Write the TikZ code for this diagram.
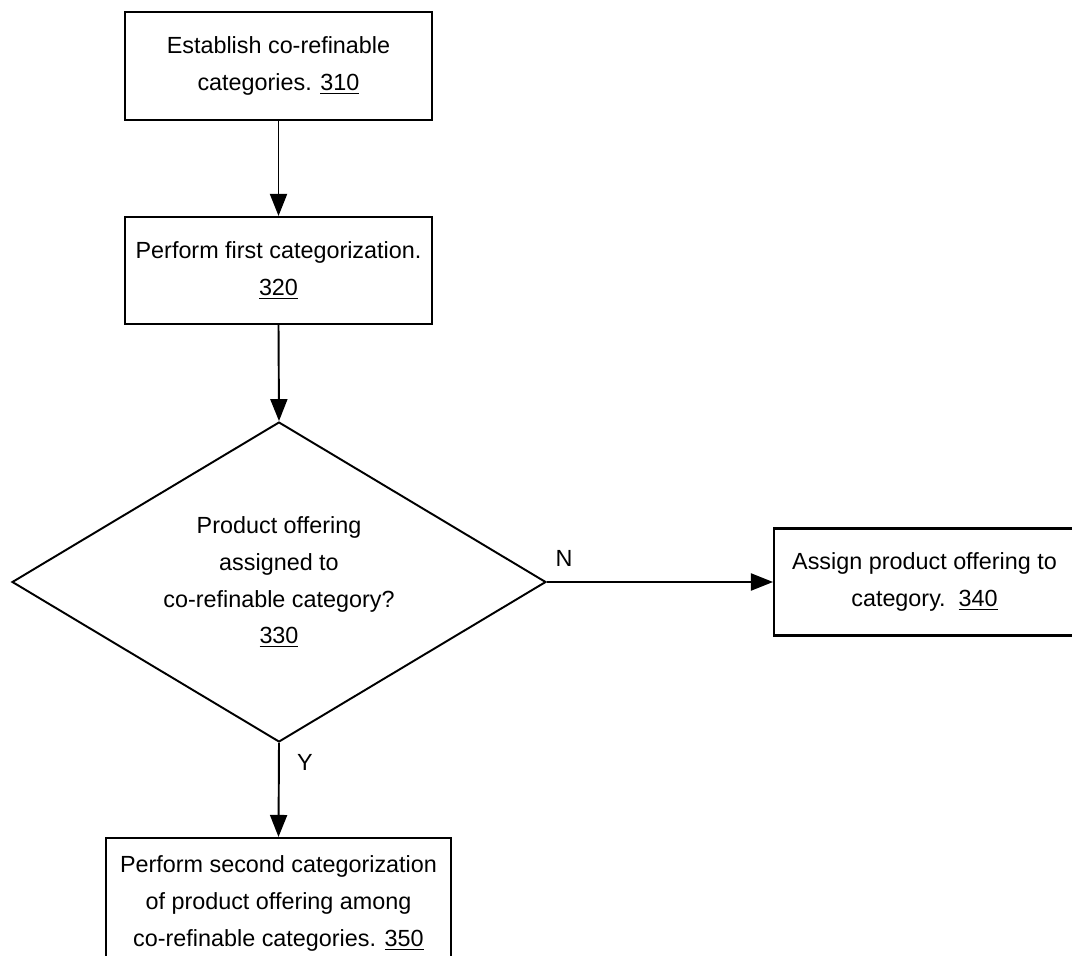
\documentclass[tikz,border=0pt]{standalone}
\usepackage{fontspec}
\setmainfont{Liberation Sans}
\usetikzlibrary{shapes.geometric,arrows.meta}
\begin{document}
\begin{tikzpicture}[x=0.02cm,y=-0.02cm,
  font=\fontsize{13.3}{21}\selectfont,
  procbox/.style={draw,line width=1.2pt,align=center,inner sep=0pt},
  decision/.style={draw,diamond,aspect=1.67,line width=1.1pt,align=center,inner sep=0pt,minimum width=10.68cm,minimum height=6.4cm},
  flowarrow/.style={-{Triangle[length=0.44cm,width=0.34cm]},line width=1.1pt}]
\clip (0,0) rectangle (1072,956);
\node[procbox,minimum width=6.14cm,minimum height=2.16cm] (b310) at (278.5,66){Establish co-refinable\\categories. \underline{310}};
\node[procbox,minimum width=6.14cm,minimum height=2.14cm] (b320) at (278.5,270.5){Perform first categorization.\\\underline{320}};
\node[decision] (d330) at (279,582){Product offering\\assigned to\\co-refinable category?\\\underline{330}};
\node[procbox,minimum width=6.02cm,minimum height=2.14cm] (b340) at (924.5,582){Assign product offering to\\category.\ \ \underline{340}};
\node[procbox,minimum width=6.9cm,minimum height=2.62cm] (b350) at (278.5,903.5){Perform second categorization\\of product offering among\\co-refinable categories. \underline{350}};
\node (lblN) at (564,558){N};
\node (lblY) at (305,762){Y};
\draw [flowarrow](b310.south) -- (b320.north);
\draw [flowarrow](b320.south) -- (d330.north);
\draw [flowarrow](d330.east) -- (b340.west);
\draw [flowarrow](d330.south) -- (b350.north);
\end{tikzpicture}
\end{document}
